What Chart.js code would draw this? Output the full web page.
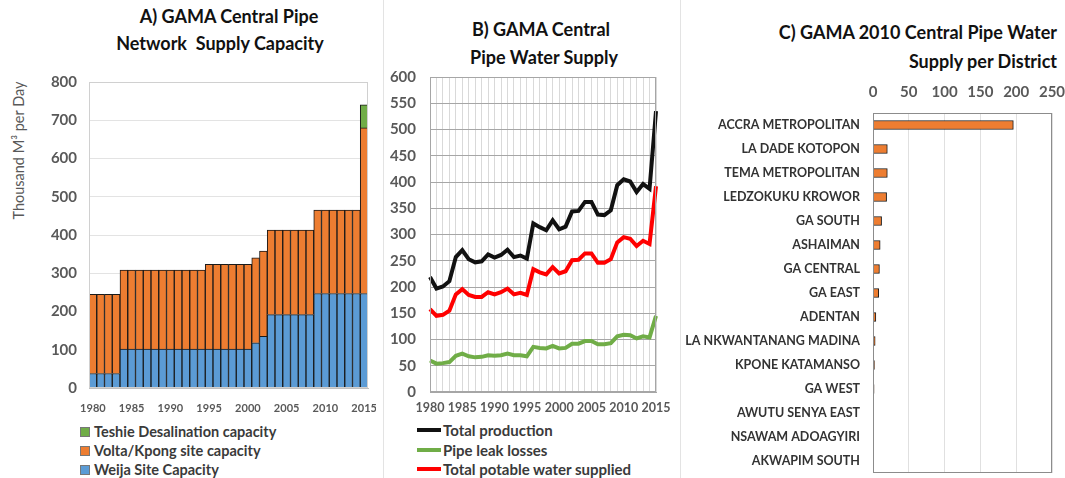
<!DOCTYPE html>
<html>
<head>
<meta charset="utf-8">
<script src="https://cdn.jsdelivr.net/npm/chart.js@4.4.1/dist/chart.umd.min.js"></script>
<style>
  body { margin: 0; background: #fff; width: 1065px; height: 478px; position: relative; overflow: hidden; font-family: Lato, "Open Sans", sans-serif; }
  canvas { position: absolute; }
  .t { position: absolute; font-weight: bold; font-size: 18px; color: #111; white-space: nowrap; }
  .sep { position: absolute; top: 0; width: 1px; height: 478px; background: #e3e3e3; }
  .lg { position: absolute; font-size: 14.5px; font-weight: bold; color: #3a3a3a; white-space: nowrap; }
  .sq { display: inline-block; width: 8px; height: 8px; border: 1px solid #777; margin-right: 4px; vertical-align: 0px; }
  .ln { display: inline-block; width: 24px; height: 4px; margin-right: 2px; vertical-align: 4px; }
</style>
</head>
<body>
<div class="sep" style="left:383px"></div>
<div class="sep" style="left:680px"></div>

<div class="t" style="left:0;width:458px;text-align:center;top:5px">A) GAMA Central Pipe</div>
<div class="t" style="left:0;width:440px;text-align:center;top:32px">Network&nbsp; Supply Capacity</div>
<div class="t" style="left:383px;width:316px;text-align:center;top:18px">B) GAMA Central</div>
<div class="t" style="left:383px;width:322px;text-align:center;top:46px">Pipe Water Supply</div>
<div class="t" style="right:8px;text-align:right;top:21px">C) GAMA 2010 Central Pipe Water</div>
<div class="t" style="right:8px;text-align:right;top:50px">Supply per District</div>

<div style="position:absolute;left:-57px;top:142px;width:150px;text-align:center;transform:rotate(-90deg);font-size:14.5px;color:#595959;white-space:nowrap">Thousand M³ per Day</div>

<canvas id="chartA" width="376" height="350" style="left:0;top:65px"></canvas>
<canvas id="chartB" width="297" height="350" style="left:383px;top:65px"></canvas>
<canvas id="chartC" width="382" height="405" style="left:683px;top:75px"></canvas>

<div class="lg" style="left:80px;top:423px"><span class="sq" style="background:#70AD47"></span>Teshie Desalination capacity</div>
<div class="lg" style="left:80px;top:442px"><span class="sq" style="background:#ED7D31"></span>Volta/Kpong site capacity</div>
<div class="lg" style="left:80px;top:461px"><span class="sq" style="background:#5B9BD5"></span>Weija Site Capacity</div>

<div class="lg" style="left:417px;top:421px;font-size:15px"><span class="ln" style="background:#111"></span>Total production</div>
<div class="lg" style="left:417px;top:441px;font-size:15px"><span class="ln" style="background:#70AD47"></span>Pipe leak losses</div>
<div class="lg" style="left:417px;top:460px;font-size:15px"><span class="ln" style="background:#FF0000"></span>Total potable water supplied</div>

<script>
const years = [1980, 1981, 1982, 1983, 1984, 1985, 1986, 1987, 1988, 1989,
    1990, 1991, 1992, 1993, 1994, 1995, 1996, 1997, 1998, 1999,
    2000, 2001, 2002, 2003, 2004, 2005, 2006, 2007, 2008, 2009,
    2010, 2011, 2012, 2013, 2014, 2015];

// A) capacity, thousand m3/day
const weija = [38, 38, 38, 38, 102, 102, 102, 102, 102, 102,
    102, 102, 102, 102, 102, 102, 102, 102, 102, 102,
    102, 118, 135, 192, 192, 192, 192, 192, 192, 247,
    247, 247, 247, 247, 247, 247];
const volta = [207, 207, 207, 207, 206, 206, 206, 206, 206, 206,
    206, 206, 206, 206, 206, 221, 221, 221, 221, 221,
    221, 222, 223, 221, 221, 221, 221, 221, 221, 218,
    218, 218, 218, 218, 218, 433];
const teshie = [null, null, null, null, null, null, null, null, null, null,
    null, null, null, null, null, null, null, null, null, null,
    null, null, null, null, null, null, null, null, null, null,
    null, null, null, null, null, 60];

// B) supply
const totalProduction = [219, 197, 201, 211, 257, 270, 253, 247, 249, 262,
    256, 261, 271, 257, 260, 254, 321, 314, 308, 327,
    310, 315, 344, 345, 362, 362, 338, 337, 346, 394,
    405, 401, 381, 396, 387, 535];
const leakLosses = [60, 54, 55, 57, 69, 73, 68, 66, 67, 70,
    69, 70, 73, 70, 70, 68, 86, 84, 83, 88,
    83, 84, 92, 92, 97, 97, 91, 91, 93, 106,
    109, 108, 102, 106, 104, 145];
const potable = [158, 145, 147, 155, 186, 196, 185, 181, 181, 190,
    186, 190, 197, 186, 189, 185, 234, 228, 224, 238,
    226, 230, 251, 252, 264, 264, 246, 246, 253, 285,
    295, 292, 278, 288, 282, 392];

// C) 2010 supply per district
const districts = ['ACCRA METROPOLITAN', 'LA DADE KOTOPON', 'TEMA METROPOLITAN', 'LEDZOKUKU KROWOR',
    'GA SOUTH', 'ASHAIMAN', 'GA CENTRAL', 'GA EAST', 'ADENTAN', 'LA NKWANTANANG MADINA',
    'KPONE KATAMANSO', 'GA WEST', 'AWUTU SENYA EAST', 'NSAWAM ADOAGYIRI', 'AKWAPIM SOUTH'];
const districtSupply = [196, 20, 20, 19, 12, 10, 9, 8, 4, 3, 2, 1.5, 0.5, 0, 0];

const tickColor = '#595959';
const fontFam = 'Lato, "Open Sans", sans-serif';

// box round the plot area
const frame = {
    id: 'frame',
    afterDraw(chart, args, opts) {
        const a = chart.chartArea, c = chart.ctx;
        c.save();
        c.strokeStyle = opts.color || '#bfbfbf';
        c.lineWidth = 1;
        c.strokeRect(a.left + 0.5, a.top + 0.5, a.right - a.left - 1, a.bottom - a.top - 1);
        c.restore();
    }
};

const everyFifth = function (v, i) {
    return years[i] % 5 === 0 ? String(years[i]) : '';
};

// fixed axis sizes, no extra room for overhanging tick labels
const fixW = w => s => { s.width = w; s.paddingTop = 0; s.paddingBottom = 0; };
const fixH = h => s => { s.height = h; s.paddingLeft = 0; s.paddingRight = 0; };

new Chart(document.getElementById('chartA'), {
    type: 'bar',
    data: {
        labels: years,
        datasets: [
            { label: 'Weija Site Capacity', data: weija, backgroundColor: '#5B9BD5', borderColor: '#1a1a1a', borderWidth: 1 },
            { label: 'Volta/Kpong site capacity', data: volta, backgroundColor: '#ED7D31', borderColor: '#1a1a1a', borderWidth: 1 },
            { label: 'Teshie Desalination capacity', data: teshie, backgroundColor: '#70AD47', borderColor: '#1a1a1a', borderWidth: 1 }
        ]
    },
    options: {
        responsive: false,
        animation: false,
        datasets: { bar: { barPercentage: 1, categoryPercentage: 1 } },
        layout: { padding: { top: 17, right: 8 } },
        plugins: { legend: { display: false }, tooltip: { enabled: false }, frame: { color: '#d0d0d0' } },
        scales: {
            x: {
                stacked: true,
                grid: { display: false },
                border: { color: '#bfbfbf' },
                ticks: { autoSkip: false, maxRotation: 0, padding: 6, callback: everyFifth, color: tickColor, font: { family: fontFam, size: 11, weight: 'bold' } },
                afterFit: fixH(27)
            },
            y: {
                stacked: true,
                min: 0,
                max: 800,
                grid: { color: '#e3e3e3', drawTicks: false },
                border: { display: false },
                ticks: { stepSize: 100, padding: 12, color: tickColor, font: { family: fontFam, size: 15, weight: 'bold' } },
                afterFit: fixW(89)
            }
        }
    },
    plugins: [frame]
});

new Chart(document.getElementById('chartB'), {
    type: 'line',
    data: {
        labels: years,
        datasets: [
            { label: 'Total production', data: totalProduction, borderColor: '#111111', borderWidth: 4, pointRadius: 0, tension: 0 },
            { label: 'Pipe leak losses', data: leakLosses, borderColor: '#70AD47', borderWidth: 4, pointRadius: 0, tension: 0 },
            { label: 'Total potable water supplied', data: potable, borderColor: '#FF0000', borderWidth: 4, pointRadius: 0, tension: 0 }
        ]
    },
    options: {
        responsive: false,
        animation: false,
        layout: { padding: { top: 12, right: 24 } },
        plugins: { legend: { display: false }, tooltip: { enabled: false }, frame: { color: '#a6a6a6' } },
        scales: {
            x: {
                offset: false,
                grid: { color: '#d9d9d9', drawTicks: false },
                border: { color: '#a6a6a6' },
                ticks: { autoSkip: false, maxRotation: 0, padding: 8, callback: everyFifth, color: tickColor, font: { family: fontFam, size: 12.5, weight: 'bold' } },
                afterFit: fixH(23)
            },
            y: {
                min: 0,
                max: 600,
                grid: { color: '#a6a6a6', drawTicks: false },
                border: { display: false },
                ticks: { stepSize: 50, padding: 14, color: tickColor, font: { family: fontFam, size: 15, weight: 'bold' } },
                afterFit: fixW(47)
            }
        }
    },
    plugins: [frame]
});

new Chart(document.getElementById('chartC'), {
    type: 'bar',
    data: {
        labels: districts,
        datasets: [
            { label: 'Supply', data: districtSupply, backgroundColor: '#ED7D31', borderColor: '#1a1a1a', borderWidth: 1, barThickness: 9 }
        ]
    },
    options: {
        indexAxis: 'y',
        responsive: false,
        animation: false,
        layout: { padding: { right: 13, bottom: 7 } },
        plugins: { legend: { display: false }, tooltip: { enabled: false }, frame: { color: '#8c8c8c' } },
        scales: {
            x: {
                position: 'top',
                min: 0,
                max: 250,
                grid: { color: '#e0e0e0', drawTicks: false },
                border: { display: false },
                ticks: { stepSize: 50, padding: 12, color: tickColor, font: { family: fontFam, size: 15, weight: 'bold' } },
                afterFit: fixH(38)
            },
            y: {
                grid: { display: false },
                border: { display: false },
                ticks: { autoSkip: false, padding: 5, color: '#333', font: { family: fontFam, size: 12.5, weight: 'bold' } },
                afterFit: fixW(190)
            }
        }
    },
    plugins: [frame]
});
</script>
</body>
</html>
